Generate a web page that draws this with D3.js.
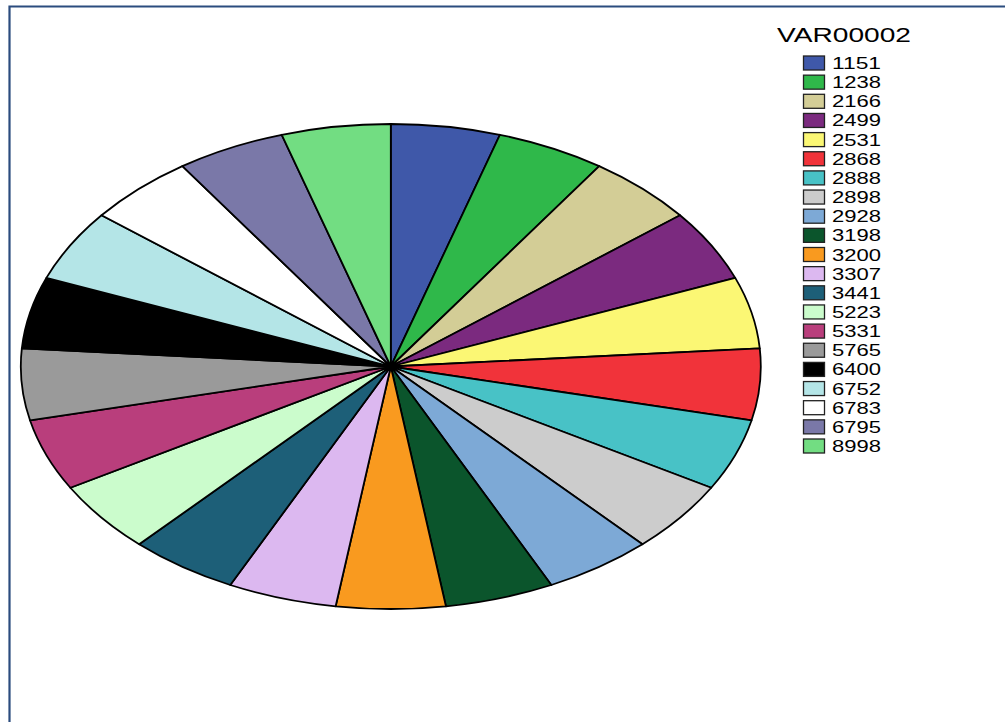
<!DOCTYPE html>
<html><head><meta charset="utf-8">
<script src="https://cdn.jsdelivr.net/npm/d3@7/dist/d3.min.js"></script>
<style>body{margin:0;background:#fff}svg{display:block}</style>
</head><body>
<svg id="c" width="1005" height="722"></svg>
<script>
const categories = ["1151","1238","2166","2499","2531","2868","2888","2898","2928","3198","3200","3307","3441","5223","5331","5765","6400","6752","6783","6795","8998"];
const counts = [1,1,1,1,1,1,1,1,1,1,1,1,1,1,1,1,1,1,1,1,1];
const colors = ["#3f58a9","#2fb84a","#d3cd96","#7b2a7f","#fbf774","#f1333a","#48c2c6","#cccccc","#7da9d6","#0b552c","#f99a1f","#dcb8f0","#1d5f78","#cbfccc","#b93e7c","#9a9a9a","#000000","#b4e5e7","#ffffff","#7a78a8","#72dd82"];
const legendTitle = "VAR00002";

const svg = d3.select("#c");
// frame
svg.append("path").attr("d","M9.5,722 L9.5,6.5 L1005,6.5")
  .attr("fill","none").attr("stroke","#2b4c7e").attr("stroke-width",2.2);

const cx = 390.8, cy = 366.5, rx = 370, ry = 242.5;
const color = d3.scaleOrdinal().domain(categories).range(colors);
const pie = d3.pie().sort(null).value(d => d.v);
const data = categories.map((c,i)=>({c, v:counts[i]}));
const arc = d3.arc().innerRadius(0).outerRadius(rx);

const g = svg.append("g").attr("transform",`translate(${cx},${cy}) scale(1,${ry/rx})`);
g.selectAll("path").data(pie(data)).join("path")
  .attr("d", arc)
  .attr("fill", d => color(d.data.c))
  .attr("stroke","#000").attr("stroke-width",1.8)
  .attr("stroke-linejoin","round")
  .attr("vector-effect","non-scaling-stroke");

// legend
const lg = svg.append("g");
lg.append("text").attr("x",777).attr("y",42).text(legendTitle)
  .attr("textLength",134).attr("lengthAdjust","spacingAndGlyphs")
  .attr("font-family","Liberation Sans, Arial, sans-serif").attr("font-size",20.5).attr("fill","#000");
const y = d3.scaleBand().domain(categories).range([54.5, 54.5 + 19.15*categories.length]);
const items = lg.selectAll("g.it").data(categories).join("g").attr("class","it")
  .attr("transform", d => `translate(0,${y(d)})`);
items.append("rect").attr("x",803.5).attr("y",1.5).attr("width",21).attr("height",14)
  .attr("fill", d => color(d)).attr("stroke","#222").attr("stroke-width",1.3);
items.append("text").attr("x",832).attr("y",14.5).text(d=>d)
  .attr("textLength",49).attr("lengthAdjust","spacingAndGlyphs")
  .attr("font-family","Liberation Sans, Arial, sans-serif").attr("font-size",16.5).attr("fill","#000");
</script>
</body></html>
